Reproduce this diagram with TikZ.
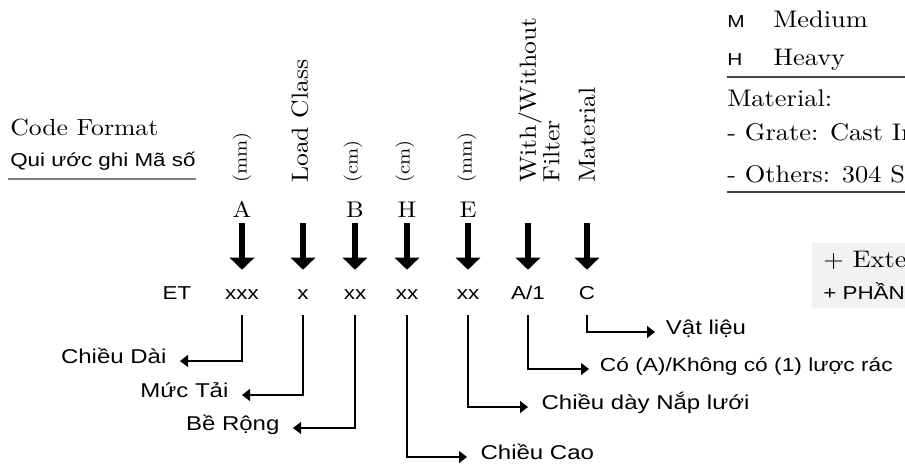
\documentclass[tikz,border=0pt]{standalone}
\usepackage{fontspec}
\setmainfont{lmroman10-regular.otf}[FakeStretch=1.1]
\setsansfont{Liberation Sans}[FakeStretch=1.2]
\usepackage{xcolor}
\usetikzlibrary{arrows.meta,positioning}

\definecolor{rulegray}{HTML}{444444}
\definecolor{ulgray}{HTML}{808080}
\definecolor{boxgray}{HTML}{F2F2F2}

\begin{document}
\begin{tikzpicture}[
  x=0.75pt, y=-0.75pt,
  >=Stealth,
  every node/.style={inner sep=0pt},
  ttl/.style={font=\fontsize{17.5}{19}\selectfont, anchor=base west},
  vn/.style={font=\sffamily\fontsize{14}{16}\selectfont, anchor=base west},
  rotbig/.style={font=\fontsize{17.5}{16.5}\selectfont, rotate=90, anchor=west},
  rotsmall/.style={font=\fontsize{14}{16}\selectfont, rotate=90, anchor=west},
  letter/.style={font=\fontsize{17}{19}\selectfont, anchor=base, inner sep=4.5pt, text depth=0pt},
  codechar/.style={font=\sffamily\fontsize{14}{16}\selectfont, minimum height=33.75pt, text height=10pt, text depth=0pt},
  lbl/.style={font=\sffamily\fontsize{15}{17}\selectfont, inner xsep=10pt},
  key/.style={font=\sffamily\fontsize{13}{15}\selectfont, anchor=base west},
  rserif/.style={font=\fontsize{18}{20}\selectfont, anchor=base west},
  bigarr/.style={-{Triangle[length=9pt,width=18pt]}, line width=3.8pt},
  link/.style={-{Triangle[length=6pt,width=9pt]}, line width=0.9pt},
  rule/.style={draw=rulegray, line width=0.9pt}
]
\useasboundingbox (0,0) rectangle (905,470);

%--------------------------------------------------
% left: title
%--------------------------------------------------
\node[ttl] (title) at (10,136) {Code Format};
\node[vn] (qui) at (10,167) {Qui ước ghi Mã số};
\draw[draw=ulgray, line width=1pt] ([xshift=-1.5pt,yshift=-9pt]qui.base west) -- ([yshift=-9pt]qui.base east);

%--------------------------------------------------
% rotated headings
%--------------------------------------------------
\node[rotsmall] (hA) at (242,183) {(mm)};
\node[rotbig] (hLoad) at (300,183) {Load Class};
\node[rotsmall] (hB) at (353,183) {(cm)};
\node[rotsmall] (hH) at (405,183) {(cm)};
\node[rotsmall] (hE) at (467,183) {(mm)};
\node[rotbig, align=left] (hFlt) at (539,183) {With/Without\\Filter};
\node[rotbig] (hMat) at (587,183) {Material};

% letters
\node[letter] (lA) at (242,217) {A};
\node[letter] (lB) at (355,217) {B};
\node[letter] (lH) at (407,217) {H};
\node[letter] (lE) at (468,217) {E};

%--------------------------------------------------
% code row
%--------------------------------------------------
\node[codechar] (cET) at (177,292.5) {ET};
\node[codechar] (cA) at (242,292.5) {xxx};
\node[codechar] (cLoad) at (303,292.5) {x};
\node[codechar] (cB) at (355,292.5) {xx};
\node[codechar] (cH) at (407,292.5) {xx};
\node[codechar] (cE) at (468,292.5) {xx};
\node[codechar] (cFlt) at (528,292.5) {A/1};
\node[codechar] (cMat) at (587,292.5) {C};

% big arrows
\coordinate (tLoad) at (303,223);
\coordinate (tFlt) at (528,223);
\coordinate (tMat) at (587,223);
\draw[bigarr] (lA.south) -- (cA.north);
\draw[bigarr] (tLoad) -- (cLoad.north);
\draw[bigarr] (lB.south) -- (cB.north);
\draw[bigarr] (lH.south) -- (cH.north);
\draw[bigarr] (lE.south) -- (cE.north);
\draw[bigarr] (tFlt) -- (cFlt.north);
\draw[bigarr] (tMat) -- (cMat.north);

%--------------------------------------------------
% meanings
%--------------------------------------------------
\node[lbl, anchor=mid east] (nLen) at (180,361) {Chiều Dài};
\node[lbl, anchor=mid east] (nLoad) at (242,395) {Mức Tải};
\node[lbl, anchor=mid east] (nWid) at (293,428) {Bề Rộng};
\node[lbl, anchor=mid west] (nHgt) at (467,457) {Chiều Cao};
\node[lbl, anchor=mid west] (nThk) at (528,407) {Chiều dày Nắp lưới};
\node[lbl, anchor=mid west, font=\sffamily\fontsize{14.2}{16}\selectfont, inner xsep=8pt] (nFlt) at (589,369) {Có (A)/Không có (1) lược rác};
\node[lbl, anchor=mid west, inner xsep=8pt] (nMat) at (655,332) {Vật liệu};

\draw[link] (cA.south) |- (nLen.mid east);
\draw[link] (cLoad.south) |- (nLoad.mid east);
\draw[link] (cB.south) |- (nWid.mid east);
\draw[link] (cH.south) |- (nHgt.mid west);
\draw[link] (cE.south) |- (nThk.mid west);
\draw[link] (cFlt.south) |- (nFlt.mid west);
\draw[link] (cMat.south) |- (nMat.mid west);

%--------------------------------------------------
% right: key
%--------------------------------------------------
\node[key] (kM) at (727,28) {M};
\node[rserif] (vM) at (773,28) {Medium};
\node[key] (kH) at (727,66) {H};
\node[rserif] (vH) at (773,66) {Heavy};
\draw[rule] (727,77) -- (910,77);
\node[rserif] (mat) at (727,107) {Material:};
\node[rserif] (grate) at (727,141) {- Grate: Cast Iron};
\node[rserif] (others) at (727,183) {- Others: 304 S.S.};
\draw[rule] (727,192) -- (910,192);

\fill[boxgray] (812,243) rectangle (910,308);
\node[rserif] (ext) at (823,267) {+ External};
\node[vn] (phan) at (823,299) {+ PHẦN};

\end{tikzpicture}
\end{document}
